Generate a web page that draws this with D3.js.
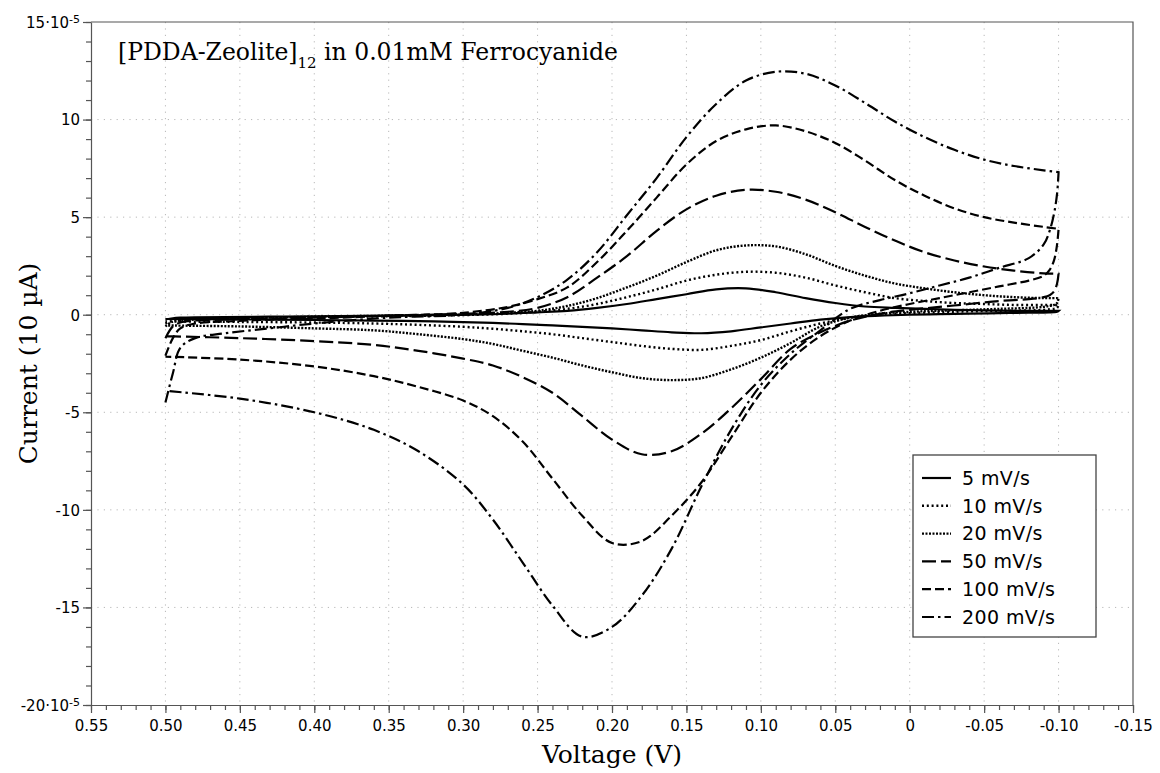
<!DOCTYPE html>
<html>
<head>
<meta charset="utf-8">
<script src="https://cdn.jsdelivr.net/npm/d3@7"></script>
<style>
  body { margin: 0; background: #fff; }
  svg { display: block; }
</style>
</head>
<body>
<div id="chart"></div>
<script>
/********************* Data *********************/
// voltage grid of the forward scan (0.5 V -> -0.1 V) and of the return scan
const fwdV = [0.5, 0.495, 0.49, 0.48, 0.46, 0.43, 0.4, 0.35, 0.3, 0.27, 0.25, 0.23, 0.21, 0.19, 0.17, 0.15, 0.13, 0.11, 0.09, 0.07, 0.05, 0.03, 0.01, -0.01, -0.03, -0.05, -0.07, -0.09, -0.1];
const revV = [-0.1, -0.099, -0.097, -0.094, -0.09, -0.08, -0.06, -0.04, -0.02, 0, 0.02, 0.04, 0.06, 0.08, 0.1, 0.12, 0.14, 0.16, 0.18, 0.2, 0.22, 0.24, 0.26, 0.28, 0.3, 0.33, 0.36, 0.4, 0.45, 0.5];

// currents in units of 10^-5 A
const fwd5 = [-0.25, -0.18, -0.15, -0.13, -0.12, -0.1, -0.08, -0.05, 0, 0.05, 0.12, 0.2, 0.35, 0.55, 0.8, 1.05, 1.3, 1.35, 1.15, 0.85, 0.6, 0.42, 0.35, 0.3, 0.25, 0.22, 0.2, 0.2, 0.2];
const rev5 = [0.2, 0.15, 0.13, 0.12, 0.11, 0.1, 0.08, 0.06, 0.03, 0, -0.05, -0.12, -0.25, -0.45, -0.65, -0.85, -0.95, -0.9, -0.8, -0.7, -0.62, -0.55, -0.48, -0.42, -0.38, -0.33, -0.3, -0.27, -0.24, -0.22];

const fwd10 = [-0.45, -0.3, -0.25, -0.2, -0.18, -0.15, -0.12, -0.08, -0.02, 0.05, 0.15, 0.3, 0.55, 0.9, 1.3, 1.75, 2.05, 2.2, 2.15, 1.9, 1.5, 1.15, 0.85, 0.7, 0.6, 0.55, 0.5, 0.5, 0.5];
const rev10 = [0.5, 0.35, 0.3, 0.28, 0.25, 0.22, 0.2, 0.17, 0.13, 0.08, 0, -0.15, -0.45, -0.85, -1.3, -1.6, -1.8, -1.75, -1.6, -1.4, -1.2, -1.0, -0.85, -0.72, -0.62, -0.52, -0.45, -0.4, -0.37, -0.35];

const fwd20 = [-0.6, -0.35, -0.3, -0.25, -0.2, -0.15, -0.1, -0.05, 0, 0.1, 0.2, 0.45, 0.85, 1.4, 2.0, 2.7, 3.3, 3.55, 3.5, 3.1, 2.5, 2.0, 1.6, 1.35, 1.15, 1.0, 0.9, 0.85, 0.85];
const rev20 = [0.85, 0.6, 0.5, 0.45, 0.4, 0.35, 0.3, 0.25, 0.2, 0.15, 0.05, -0.15, -0.6, -1.45, -2.2, -2.8, -3.25, -3.35, -3.25, -2.95, -2.6, -2.2, -1.85, -1.5, -1.25, -1.0, -0.8, -0.7, -0.6, -0.55];

const fwd50 = [-1.2, -0.6, -0.4, -0.3, -0.25, -0.2, -0.15, -0.05, 0.05, 0.15, 0.35, 0.9, 1.9, 3.0, 4.3, 5.4, 6.1, 6.4, 6.3, 5.9, 5.25, 4.5, 3.8, 3.2, 2.78, 2.47, 2.26, 2.12, 2.1];
const rev50 = [2.1, 1.6, 1.2, 1.0, 0.9, 0.8, 0.7, 0.55, 0.4, 0.25, 0.05, -0.3, -0.9, -1.75, -3.3, -4.8, -6.1, -7.0, -7.15, -6.4, -5.2, -4.0, -3.2, -2.6, -2.25, -1.85, -1.55, -1.35, -1.2, -1.1];

const fwd100 = [-2.1, -1.2, -0.7, -0.45, -0.35, -0.25, -0.2, -0.05, 0.1, 0.4, 0.8, 1.4, 2.7, 4.3, 6.0, 7.7, 8.9, 9.5, 9.7, 9.4, 8.8, 7.9, 6.9, 6.1, 5.45, 5.0, 4.72, 4.5, 4.4];
const rev100 = [4.4, 3.6, 2.8, 2.3, 2.0, 1.75, 1.45, 1.15, 0.85, 0.55, 0.2, -0.3, -1.1, -2.3, -4.0, -6.3, -8.6, -10.3, -11.6, -11.7, -10.3, -8.4, -6.5, -5.2, -4.4, -3.7, -3.15, -2.65, -2.3, -2.15];

const fwd200 = [-4.5, -3.0, -1.7, -1.2, -0.95, -0.7, -0.45, -0.15, 0.0, 0.35, 0.9, 1.8, 3.2, 5.1, 7.0, 9.1, 10.8, 12.0, 12.45, 12.35, 11.75, 10.85, 9.9, 9.1, 8.45, 7.95, 7.62, 7.4, 7.3];
const rev200 = [7.3, 6.2, 5.2, 4.3, 3.6, 2.9, 2.4, 1.9, 1.5, 1.1, 0.75, 0.3, -0.8, -2.0, -3.6, -5.9, -8.8, -12.0, -14.4, -16.0, -16.5, -14.9, -12.7, -10.5, -8.7, -7.0, -5.9, -5.0, -4.3, -3.9];

const seriesNames = ["5 mV/s", "10 mV/s", "20 mV/s", "50 mV/s", "100 mV/s", "200 mV/s"];
const seriesFwd = [fwd5, fwd10, fwd20, fwd50, fwd100, fwd200];
const seriesRev = [rev5, rev10, rev20, rev50, rev100, rev200];

const xMajorTicks = [0.55, 0.5, 0.45, 0.4, 0.35, 0.3, 0.25, 0.2, 0.15, 0.1, 0.05, 0, -0.05, -0.1, -0.15];
const yMajorTicks = [15, 10, 5, 0, -5, -10, -15, -20];

/********************* Chart *********************/
(() => {
  const width = 1160,
    height = 773;
  const margin = { left: 91, right: 27, top: 22, bottom: 68 };
  const tickFont = "'DejaVu Sans', 'Lucida Grande', sans-serif";
  const serif = "'DejaVu Serif', Georgia, serif";

  // line styles for each sweep rate
  const dashes = ["none", "2,2.8", "2,1.5", "14,5", "9,4", "12,4,2.5,4"];

  const x = d3
    .scaleLinear()
    .domain([0.55, -0.15]) // voltage axis runs backwards
    .range([margin.left, width - margin.right]);
  const y = d3
    .scaleLinear()
    .domain([-20, 15])
    .range([height - margin.bottom, margin.top]);

  const svg = d3
    .select("#chart")
    .append("svg")
    .attr("width", width)
    .attr("height", height);

  // dotted grid
  const grid = svg.append("g").attr("stroke", "#b8b8b8").attr("stroke-dasharray", "1.2,5.2").attr("stroke-width", 1);
  grid
    .selectAll("line.vx")
    .data(xMajorTicks.slice(1, -1))
    .enter()
    .append("line")
    .attr("x1", (d) => x(d))
    .attr("x2", (d) => x(d))
    .attr("y1", y(15))
    .attr("y2", y(-20));
  grid
    .selectAll("line.hy")
    .data(yMajorTicks.slice(1, -1))
    .enter()
    .append("line")
    .attr("x1", x(0.55))
    .attr("x2", x(-0.15))
    .attr("y1", (d) => y(d))
    .attr("y2", (d) => y(d));

  // minor ticks first, then the labelled axes on top
  svg
    .append("g")
    .attr("transform", `translate(0,${y(-20)})`)
    .call(d3.axisBottom(x).tickValues(d3.range(-15, 56).map((d) => d / 100)).tickSize(5).tickFormat(""))
    .call((g) => g.select(".domain").remove());
  svg
    .append("g")
    .attr("transform", `translate(${x(0.55)},0)`)
    .call(d3.axisLeft(y).tickValues(d3.range(-20, 16)).tickSize(5).tickFormat(""))
    .call((g) => g.select(".domain").remove());

  const xAxis = svg
    .append("g")
    .attr("transform", `translate(0,${y(-20)})`)
    .call(
      d3
        .axisBottom(x)
        .tickValues(xMajorTicks)
        .tickSize(8)
        .tickSizeOuter(0)
        .tickFormat((d) => (d === 0 ? "0" : d3.format(".2f")(d)).replace("\u2212", "-"))
    );
  xAxis
    .selectAll(".tick text")
    .attr("y", 15)
    .attr("dy", "0.71em")
    .attr("fill", "#000")
    .style("font-family", tickFont)
    .style("font-size", "15px");

  const yAxis = svg
    .append("g")
    .attr("transform", `translate(${x(0.55)},0)`)
    .call(d3.axisLeft(y).tickValues(yMajorTicks).tickSize(8).tickSizeOuter(0).tickFormat(""));
  yAxis.selectAll(".tick").each(function (d) {
    const t = d3
      .select(this)
      .select("text")
      .attr("x", -11)
      .attr("dy", "0.36em")
      .attr("fill", "#000")
      .style("font-family", tickFont)
      .style("font-size", "15px");
    if (d === 15 || d === -20) {
      t.text(d + "\u00b710");
      t.append("tspan").attr("dy", "-0.45em").style("font-size", "11px").text("-5");
    } else {
      t.text(String(d));
    }
  });

  svg.selectAll(".domain, .tick line").attr("stroke", "#555").attr("stroke-width", 1.2);

  // right and top edges of the frame
  svg
    .append("path")
    .attr("d", `M${x(0.55)},${y(15)}H${x(-0.15)}V${y(-20)}`)
    .attr("fill", "none")
    .attr("stroke", "#555")
    .attr("stroke-width", 1.2);

  // cyclic voltammograms
  const line = d3
    .line()
    .x((d) => x(d[0]))
    .y((d) => y(d[1]))
    .curve(d3.curveCatmullRom.alpha(0.5));

  const curves = seriesNames.map((name, i) =>
    fwdV.map((v, j) => [v, seriesFwd[i][j]]).concat(revV.map((v, j) => [v, seriesRev[i][j]]))
  );

  svg
    .append("g")
    .selectAll("path")
    .data(curves)
    .enter()
    .append("path")
    .attr("d", line)
    .attr("fill", "none")
    .attr("stroke", "#000")
    .attr("stroke-width", (d, i) => (i === 1 || i === 2 ? 2.4 : 2.2))
    .attr("stroke-dasharray", (d, i) => dashes[i]);

  // title
  const title = svg
    .append("text")
    .attr("x", 118)
    .attr("y", 60)
    .attr("font-family", serif)
    .attr("font-size", "23.5px")
    .attr("fill", "#000");
  title.append("tspan").text("[PDDA-Zeolite]");
  title.append("tspan").attr("dy", 8).attr("font-size", "15px").text("12");
  title.append("tspan").attr("dy", -8).text(" in 0.01mM Ferrocyanide");

  // axis titles
  svg
    .append("text")
    .attr("x", (x(0.55) + x(-0.15)) / 2)
    .attr("y", 763)
    .attr("text-anchor", "middle")
    .attr("font-family", serif)
    .attr("font-size", "25px")
    .text("Voltage (V)");
  svg
    .append("text")
    .attr("transform", `translate(37,${(y(15) + y(-20)) / 2}) rotate(-90)`)
    .attr("text-anchor", "middle")
    .attr("font-family", serif)
    .attr("font-size", "25px")
    .text("Current (10 \u00b5A)");

  // legend
  const legend = svg.append("g").attr("transform", "translate(913,455)");
  legend
    .append("rect")
    .attr("width", 183)
    .attr("height", 182)
    .attr("fill", "#fff")
    .attr("stroke", "#444")
    .attr("stroke-width", 1.3);
  const rows = legend
    .selectAll("g.row")
    .data(seriesNames)
    .enter()
    .append("g")
    .attr("transform", (d, i) => `translate(0,${23 + i * 27.8})`);
  rows
    .append("line")
    .attr("x1", 9)
    .attr("x2", 38)
    .attr("stroke", "#000")
    .attr("stroke-width", (d, i) => (i === 1 || i === 2 ? 2.4 : 2.2))
    .attr("stroke-dasharray", (d, i) => dashes[i]);
  rows
    .append("text")
    .attr("x", 49)
    .attr("dy", "0.36em")
    .attr("font-family", "'DejaVu Sans', 'Lucida Grande', sans-serif")
    .attr("font-size", "19px")
    .attr("letter-spacing", "0.4px")
    .text((d) => d);
})();
</script>
</body>
</html>
